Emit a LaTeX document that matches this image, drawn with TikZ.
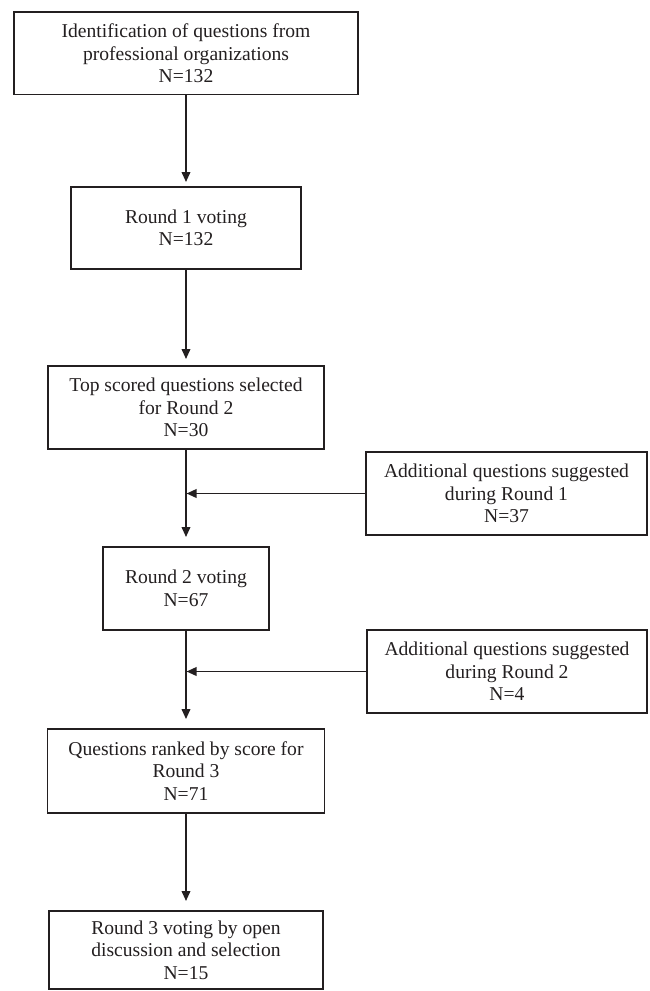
\documentclass[tikz,border=0pt]{standalone}
\usepackage{fontspec}
\setmainfont{Liberation Serif}
\usetikzlibrary{arrows.meta}
\definecolor{ink}{RGB}{35,31,32}
\tikzset{
  flowbox/.style={draw=ink, line width=1.9pt, rectangle, inner sep=0pt, align=center,
    text=ink, font=\fontsize{19.6}{22.5}\selectfont},
  arr/.style={draw=ink, line width=1.9pt, -{Triangle[length=10pt,width=8.5pt]}},
}
\begin{document}
\begin{tikzpicture}[x=1pt,y=-1pt]
\useasboundingbox (0,0) rectangle (649,991);
\node[flowbox, minimum width=344pt, minimum height=82.5pt] (b1) at (186,53.25)
  {Identification of questions from\\professional organizations\\N=132};
\node[flowbox, minimum width=230pt, minimum height=82pt] (b2) at (186,228)
  {Round 1 voting\\N=132};
\node[flowbox, minimum width=276pt, minimum height=83pt] (b3) at (186,407.5)
  {Top scored questions selected\\for Round 2\\N=30};
\node[flowbox, minimum width=281pt, minimum height=83pt] (bA) at (506.5,493.5)
  {Additional questions suggested\\during Round 1\\N=37};
\node[flowbox, minimum width=166pt, minimum height=83pt] (b4) at (186,588.5)
  {Round 2 voting\\N=67};
\node[flowbox, minimum width=280pt, minimum height=83pt] (bB) at (507,671.5)
  {Additional questions suggested\\during Round 2\\N=4};
\node[flowbox, minimum width=277pt, minimum height=83.5pt] (b5) at (186,770.8)
  {Questions ranked by score for\\Round 3\\N=71};
\node[flowbox, minimum width=274pt, minimum height=78pt] (b6) at (186,950)
  {Round 3 voting by open\\discussion and selection\\N=15};
\draw[arr, shorten >=4pt] (b1.south) -- (b2.north);
\draw[arr, shorten >=6pt] (b2.south) -- (b3.north);
\draw[arr, shorten >=9pt] (b3.south) -- (b4.north);
\draw[arr, shorten >=9pt] (b4.south) -- (b5.north);
\draw[arr, shorten >=9pt] (b5.south) -- (b6.north);
\draw[arr, shorten >=0.5pt] (bA.west) -- (bA.west -| b3.south);
\draw[arr, shorten >=0.5pt] (bB.west) -- (bB.west -| b4.south);
\end{tikzpicture}
\end{document}
